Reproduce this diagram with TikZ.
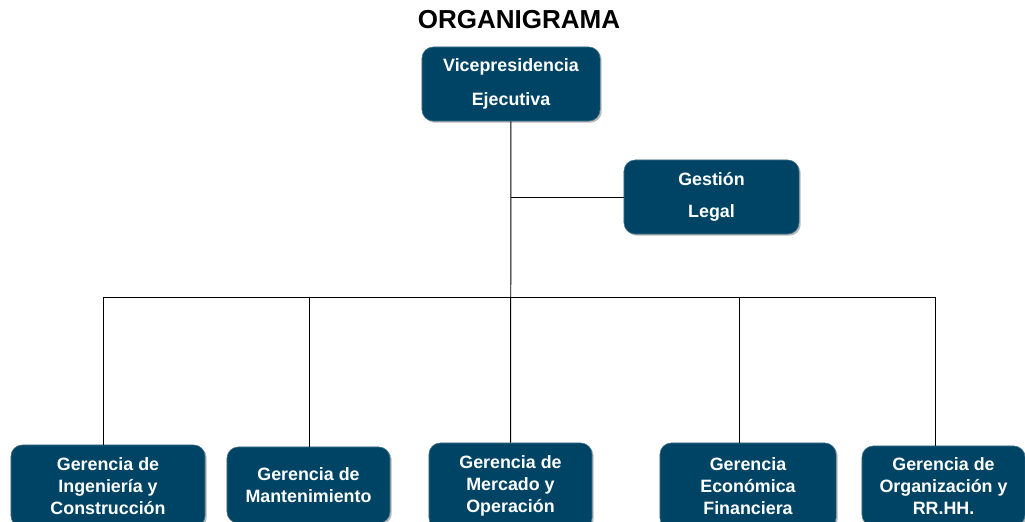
\documentclass[tikz,border=0pt]{standalone}
\usepackage{fontspec}
\setmainfont{Liberation Sans}
\usetikzlibrary{shadows}
\definecolor{boxblue}{RGB}{0,68,101}
\tikzset{
  unit/.style={draw=boxblue!75!white, line width=0.4pt, fill=boxblue, text=white,
    rounded corners=8pt, align=center, inner sep=2pt,
    font=\fontsize{12.7}{15.6}\selectfont\bfseries,
    drop shadow={shadow xshift=1.2pt, shadow yshift=-1.2pt, fill=black!45, opacity=0.6}},
  link/.style={line width=0.7pt}
}
\begin{document}
\begin{tikzpicture}[x=0.025cm, y=-0.025cm]
\useasboundingbox (0,0) rectangle (1025,521);
\clip (0,0) rectangle (1025,521);
\node[font=\fontsize{18.5}{22}\selectfont\bfseries] (title) at (519,20) {ORGANIGRAMA};
\node[unit, minimum width=4.45cm, minimum height=1.85cm] (vp) at (511,84) {Vicepresidencia\\[8.5pt]Ejecutiva};
\node[unit, minimum width=4.375cm, minimum height=1.85cm] (gl) at (711.5,197) {Gestión\\[7pt]Legal};
\node[unit, minimum width=4.85cm, minimum height=2.05cm] (g_1) at (108,486) {Gerencia de\\Ingeniería y\\Construcción};
\node[unit, minimum width=4.075cm, minimum height=1.9cm] (g_2) at (308.5,485) {Gerencia de\\Mantenimiento};
\node[unit, minimum width=4.075cm, minimum height=2.15cm] (g_3) at (510.5,486) {Gerencia de\\Mercado y\\Operación};
\node[unit, minimum width=4.4cm, minimum height=2.15cm] (g_4) at (748,486) {Gerencia\\Económica\\Financiera};
\node[unit, minimum width=4.075cm, minimum height=2cm] (g_5) at (943.5,486) {Gerencia de\\Organización y\\RR.HH.};
% bus line
\coordinate (b_1) at (103,297);
\coordinate (b_2) at (309,297);
\coordinate (b_4) at (739,297);
\coordinate (b_5) at (935,297);
\draw[link] (vp) -- (g_3);
\draw[link] (gl.west) -- (gl.west -| vp);
\draw[link] (b_1) -- (b_5);
\draw[link] (b_1) -- (b_1 |- g_1.north);
\draw[link] (b_2) -- (b_2 |- g_2.north);
\draw[link] (b_4) -- (b_4 |- g_4.north);
\draw[link] (b_5) -- (b_5 |- g_5.north);
\end{tikzpicture}
\end{document}
